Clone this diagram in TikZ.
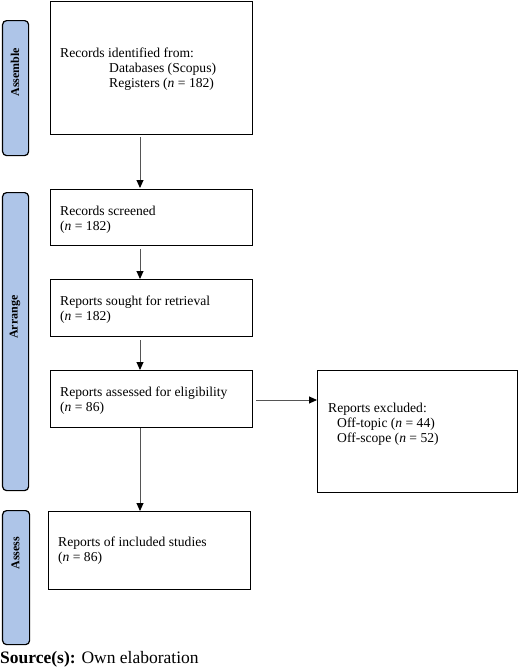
\documentclass[tikz,border=0pt]{standalone}
\usepackage{fontspec}
\setmainfont{Liberation Serif}
\usetikzlibrary{arrows.meta}
\definecolor{barblue}{HTML}{AEC5E8}
\definecolor{linegray}{HTML}{555555}
\begin{document}
\begin{tikzpicture}[x=1pt,y=-1pt,
  box/.style={draw=black, line width=1pt, anchor=north west, inner sep=0pt},
  bar/.style={draw=black, fill=barblue, line width=1.2pt, rounded corners=4pt, anchor=north west, inner sep=0pt},
  bartext/.style={rotate=90, font=\fontsize{12}{13}\selectfont\bfseries, inner sep=0pt},
  txt/.style={anchor=base west, inner sep=0pt, font=\fontsize{13.6}{15}\selectfont},
  arr/.style={draw=linegray, line width=0.9pt, -{Triangle[length=8pt,width=7pt,color=black]}}
]
\useasboundingbox (0,0) rectangle (520,670);
% side bars
\node[bar, minimum width=26pt, minimum height=135pt] (assemble) at (2,20) {};
\node[bartext] (assembletxt) at (15,72) {Assemble};
\node[bar, minimum width=26pt, minimum height=298pt] (arrange) at (2,192) {};
\node[bartext] (arrangetxt) at (15,317) {Arrange};
\node[bar, minimum width=27pt, minimum height=134pt] (assess) at (2,510) {};
\node[bartext] (assesstxt) at (15.5,553) {Assess};
% boxes
\node[box, minimum width=202pt, minimum height=133pt] (b1) at (50,1) {};
\node[box, minimum width=202pt, minimum height=56pt] (b2) at (50,189) {};
\node[box, minimum width=202pt, minimum height=57pt] (b3) at (50,279) {};
\node[box, minimum width=202pt, minimum height=57pt] (b4) at (50,370) {};
\node[box, minimum width=200pt, minimum height=122pt] (b6) at (317,370) {};
\node[box, minimum width=202pt, minimum height=78pt] (b5) at (48,511) {};
% texts
\node[txt] (t1a) at (60,57) {Records identified from:};
\node[txt] (t1b) at (109,72) {Databases (Scopus)};
\node[txt] (t1c) at (109,87) {Registers (\textit{n} = 182)};
\node[txt] (t2a) at (60,215) {Records screened};
\node[txt] (t2b) at (60,230) {(\textit{n} = 182)};
\node[txt] (t3a) at (60,305) {Reports sought for retrieval};
\node[txt] (t3b) at (60,320) {(\textit{n} = 182)};
\node[txt] (t4a) at (60,396) {Reports assessed for eligibility};
\node[txt] (t4b) at (60,411) {(\textit{n} = 86)};
\node[txt] (t6a) at (328,412) {Reports excluded:};
\node[txt] (t6b) at (337,427) {Off-topic (\textit{n} = 44)};
\node[txt] (t6c) at (337,442) {Off-scope (\textit{n} = 52)};
\node[txt] (t5a) at (58,546) {Reports of included studies};
\node[txt] (t5b) at (58,561) {(\textit{n} = 86)};
% source
\node[anchor=base west, inner sep=0pt, font=\fontsize{17.5}{19}\selectfont] (src) at (0,663) {\textbf{Source(s):} Own elaboration};
% arrows
\coordinate (a1s) at (140,137);
\coordinate (a1e) at (140,188);
\draw[arr] (a1s) -- (a1e);
\draw[arr] ([yshift=-3pt]b2.south -| a1s) -- (b3.north -| a1s);
\draw[arr] ([yshift=-3pt]b3.south -| a1s) -- (b4.north -| a1s);
\draw[arr] (b4.south -| a1s) -- (b5.north -| a1s);
\draw[arr] ([xshift=3pt]b4.east |- 0,400) -- (b6.west |- 0,400);
\end{tikzpicture}
\end{document}
